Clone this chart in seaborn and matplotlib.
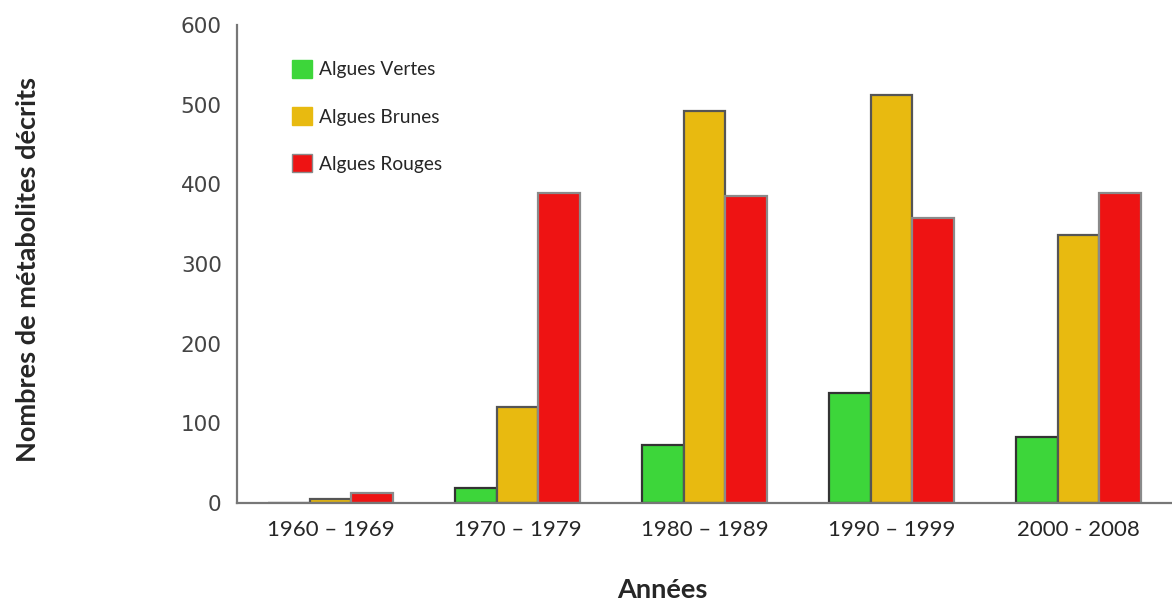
import numpy as np
import pandas as pd
import matplotlib
matplotlib.use("Agg")
import matplotlib.pyplot as plt
import seaborn as sns

# Données
periodes = ["1960 – 1969", "1970 – 1979", "1980 – 1989", "1990 – 1999", "2000 - 2008"]
algues_vertes = [0, 19, 73, 138, 83]
algues_brunes = [5, 120, 492, 512, 336]
algues_rouges = [12, 389, 385, 358, 389]
series = ["Algues Vertes", "Algues Brunes", "Algues Rouges"]
couleurs = ["#3dd63a", "#e8ba10", "#ee1313"]
bords = ["#333333", "#555555", "#8a8a8a"]

sns.set_style("white")
plt.rcParams["font.family"] = ["Lato", "DejaVu Sans"]

df = pd.DataFrame({
    "Période": periodes * 3,
    "Valeur": algues_vertes + algues_brunes + algues_rouges,
    "Type": [s for s in series for _ in periodes],
})

fig = plt.figure(figsize=(11.72, 6.02), dpi=100)
ax = fig.add_axes([237 / 1172, 1 - 503 / 602, 1 - 237 / 1172, (503 - 25) / 602])

sns.barplot(data=df, x="Période", y="Valeur", hue="Type", order=periodes,
            hue_order=series, palette=couleurs, width=0.67, gap=0,
            saturation=1, ax=ax, legend=False)

# bordures des barres par série
for cont, ec in zip(ax.containers, bords):
    for bar in cont:
        bar.set_edgecolor(ec)
        bar.set_linewidth(1.6)

ax.set_ylim(0, 600)
ax.set_xlim(-0.5, 4.45)
ax.set_yticks(np.arange(0, 601, 100))
ax.tick_params(axis="y", direction="out", length=5, width=1.2, color="#777777",
               labelsize=15.5, labelcolor="#444444", pad=6)
for lab in ax.get_yticklabels():
    lab.set_fontfamily("DejaVu Sans")

ax.tick_params(axis="x", which="major", length=0, labelsize=16, pad=12)
ax.set_xticks([0.5, 1.5, 2.5, 3.5, 4.5], minor=True)
ax.tick_params(axis="x", which="minor", direction="out", length=16, width=1.6,
               color="#999999")

for side in ["top", "right"]:
    ax.spines[side].set_visible(False)
for side in ["left", "bottom"]:
    ax.spines[side].set_color("#777777")
    ax.spines[side].set_linewidth(1.6)

ax.set_xlabel("")
ax.set_ylabel("")
fig.text(662 / 1172, 1 - 590 / 602, "Années", ha="center", va="center",
         fontsize=19.5, fontweight="bold")
fig.text(28 / 1172, 1 - 269 / 602, "Nombres de métabolites décrits", ha="center",
         va="center", rotation=90, fontsize=19.5, fontweight="bold")

# légende
handles = [plt.Rectangle((0, 0), 1, 1, facecolor=c, edgecolor=e if i == 2 else c, lw=1)
           for i, (c, e) in enumerate(zip(couleurs, bords))]
fig.legend(handles, series, loc="upper left",
           bbox_to_anchor=(292 / 1172, 1 - 60 / 602), frameon=False,
           fontsize=13.8, handlelength=1.05, handleheight=1.05, labelspacing=1.5,
           handletextpad=0.35, borderpad=0, borderaxespad=0)

fig.savefig("out.png", dpi=100)
